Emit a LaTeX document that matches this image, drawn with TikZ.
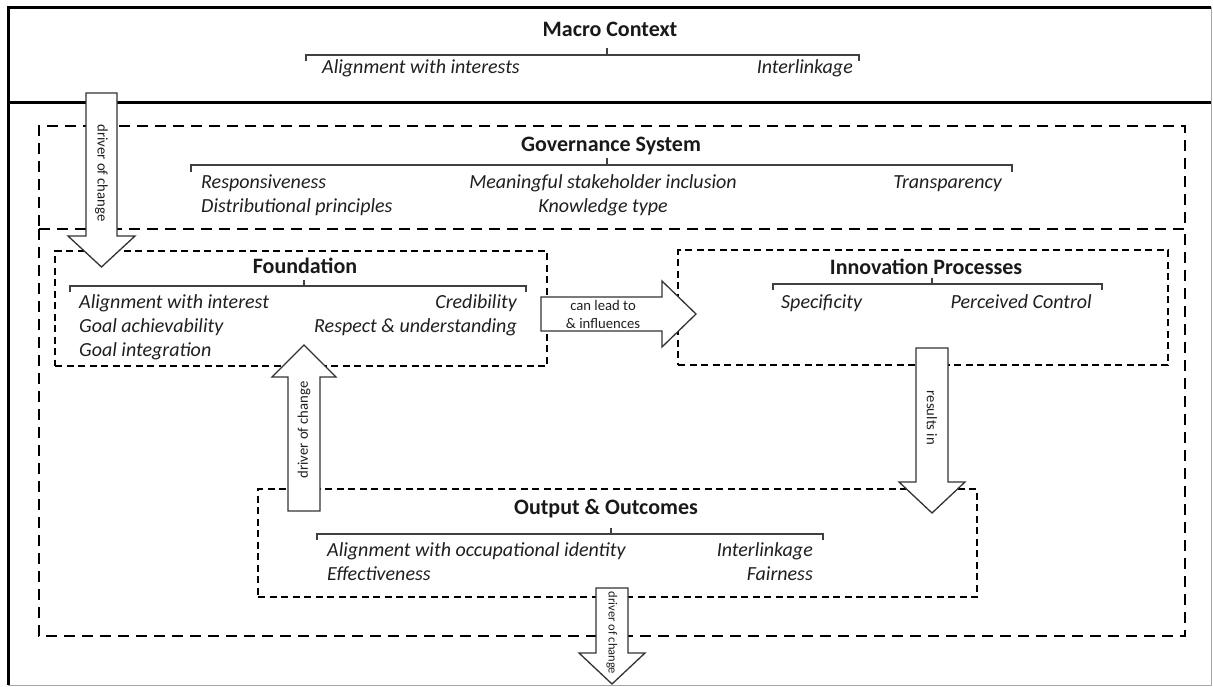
\documentclass[tikz,border=0pt]{standalone}
\usepackage{fontspec}
\setmainfont{Carlito}
\begin{document}
\begin{tikzpicture}[x=1pt,y=-1pt,
  frame/.style={line width=3pt, black},
  bigdash/.style={draw, line width=2.5pt, dash pattern=on 11pt off 7pt},
  boxdash/.style={draw, line width=1.7pt, dash pattern=on 7pt off 4.5pt},
  region/.style={inner sep=0pt, outer sep=0pt},
  brace/.style={line width=1.1pt, black!75},
  title/.style={font=\fontsize{22}{26}\selectfont\bfseries, text=black!90,
    inner sep=0pt, text height=14.5pt, text depth=0pt},
  item/.style={font=\fontsize{20}{24}\selectfont\itshape, text=black!88,
    inner sep=0pt, text height=13.3pt, text depth=5pt},
  blockarrow/.style={draw=black!80, fill=white, line width=1.3pt, line join=miter},
  arrowtext/.style={font=\fontsize{14.7}{18}\selectfont, text=black!88, inner sep=0pt},
]
\useasboundingbox (0,0) rectangle (1213,686);

% outer frame and the band of the macro context
\draw[gray!70, line width=0.8pt] (1211,7) -- (1211,685) -- (8,685);
\draw[frame] (8,685) -- (8,7) -- (1211,7);
\draw[frame] (8,102) -- (1211,102);

% macro context
\node[title] (mctitle) at (610,29) {Macro Context};
\draw[brace] (306,61) -- (306,55) -- (859,55) -- (859,61) (607,55) -- (607,48);
\node[item, anchor=west] (mc1) at (322,69) {Alignment with interests};
\node[item, anchor=east] (mc2) at (853,69) {Interlinkage};

% governance system and the enclosing system boundary
\node[region, bigdash, minimum width=1146pt, minimum height=103pt] (gov) at (612,177.5) {};
\draw[bigdash] (gov.south west) -- ++(0,407) -| (gov.south east);
\node[title] (govtitle) at (611,144) {Governance System};
\draw[brace] (191,172) -- (191,165) -- (1012,165) -- (1012,172) (607,165) -- (607,158);
\node[item, anchor=west] (gv1) at (201,184) {Responsiveness};
\node[item, anchor=west] (gv2) at (201,208) {Distributional principles};
\node[item] (gv3) at (603,184) {Meaningful stakeholder inclusion};
\node[item] (gv4) at (603,208) {Knowledge type};
\node[item, anchor=east] (gv5) at (1002,184) {Transparency};

% foundation
\node[region, boxdash, minimum width=492pt, minimum height=115pt] (found) at (301,308.5) {};
\node[title] (foundtitle) at (305,266) {Foundation};
\draw[brace] (70,292) -- (70,286) -- (526,286) -- (526,292) (304,286) -- (304,280);
\node[item, anchor=west] (fd1) at (79,304) {Alignment with interest};
\node[item, anchor=west] (fd2) at (79,328) {Goal achievability};
\node[item, anchor=west] (fd3) at (79,352) {Goal integration};
\node[item, anchor=east] (fd4) at (517,304) {Credibility};
\node[item, anchor=east] (fd5) at (517,328) {Respect \& understanding};

% innovation processes
\node[region, boxdash, minimum width=490pt, minimum height=115pt] (innov) at (923,307.5) {};
\node[title] (innovtitle) at (926,267) {Innovation Processes};
\draw[brace] (773,290) -- (773,284) -- (1102,284) -- (1102,290) (932,284) -- (932,278);
\node[item, anchor=west] (in1) at (781,304) {Specificity};
\node[item, anchor=east] (in2) at (1092,304) {Perceived Control};

% output and outcomes
\node[region, boxdash, minimum width=719pt, minimum height=108pt] (outc) at (617.5,543) {};
\node[title] (outctitle) at (606,507) {Output \& Outcomes};
\draw[brace] (317,540) -- (317,534) -- (823,534) -- (823,540) (611,534) -- (611,528);
\node[item, anchor=west] (oc1) at (327,552) {Alignment with occupational identity};
\node[item, anchor=west] (oc2) at (327,576) {Effectiveness};
\node[item, anchor=east] (oc3) at (813,552) {Interlinkage};
\node[item, anchor=east] (oc4) at (813,576) {Fairness};

% block arrows
% macro context -> foundation
\draw[blockarrow] (86,93) -- (117,93) -- (117,236) -- (135,236) -- (101.5,267)
  -- (68,236) -- (86,236) -- cycle;
\node[arrowtext, rotate=-90] (lbl1) at (101.5,173) {driver of change};

% output -> foundation
\draw[blockarrow] (288,511) -- (320,511) -- (320,377) -- (336,377) -- (304,345)
  -- (272,377) -- (288,377) -- cycle;
\node[arrowtext, rotate=90] (lbl2) at (304,430) {driver of change};

% foundation -> innovation
\draw[blockarrow] (541,297) -- (662,297) -- (662,281) -- (696,314) -- (662,347)
  -- (662,331) -- (541,331) -- cycle;
\node[arrowtext, align=center] (lbl3) at (603,314) {can lead to\\\& influences};

% innovation -> output
\draw[blockarrow] (916,348) -- (948,348) -- (948,482) -- (965,482) -- (932,513)
  -- (899,482) -- (916,482) -- cycle;
\node[arrowtext, rotate=-90] (lbl4) at (932,418) {results in};

% output -> beyond the system
\draw[blockarrow] (596,588) -- (628,588) -- (628,653) -- (645,653) -- (612,684)
  -- (579,653) -- (596,653) -- cycle;
\node[arrowtext, font=\fontsize{12.5}{15}\selectfont, rotate=-90] (lbl5) at (612,633) {driver of change};

\end{tikzpicture}
\end{document}
